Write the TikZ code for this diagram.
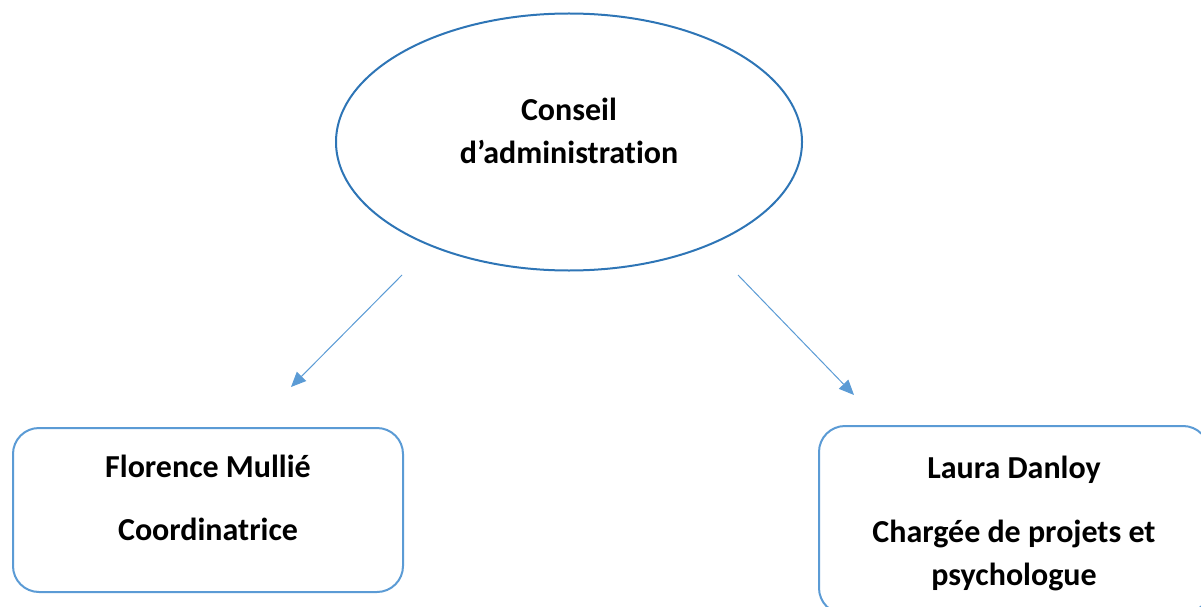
\documentclass[tikz,border=0pt]{standalone}
\usepackage{fontspec}
\setmainfont{Carlito}[Ligatures=NoCommon]
\usetikzlibrary{shapes.geometric,arrows.meta}

\definecolor{councilblue}{HTML}{2E75B6}
\definecolor{staffblue}{HTML}{5B9BD5}

\tikzset{
  council/.style={ellipse, draw=councilblue, line width=2pt, minimum width=466pt, minimum height=257pt, inner sep=0pt},
  staffbox/.style={draw=staffblue, line width=2pt, rounded corners=26pt, minimum width=390pt, inner sep=0pt},
  boldtext/.style={font=\fontsize{32}{42.5}\selectfont\bfseries, align=center, inner sep=0pt},
  link/.style={draw=staffblue, line width=1pt, -{Triangle[length=15pt,width=13pt]}}
}

\begin{document}
\begin{tikzpicture}[x=1pt,y=-1pt]
    \useasboundingbox (0,0) rectangle (1201,607);

    \node [council] (conseil) at (569,142) {};
    \node [boldtext, anchor=base] (conseiltext) at (569,163) {Conseil\\d’administration};

    \node [staffbox, minimum height=164pt] (florence) at (208,510) {};
    \node [boldtext, anchor=base] (florencetext) at (208,540) {Florence Mullié\\[20.5pt]Coordinatrice};

    \node [staffbox, minimum height=188pt] (laura) at (1014,520) {};
    \node [boldtext, anchor=base] (lauratext) at (1014,585) {Laura Danloy\\[21.5pt]Chargée de projets et\\psychologue};

    \coordinate (leftstart) at (402,275);
    \coordinate (leftend) at (291,387);
    \coordinate (rightstart) at (738,275);
    \coordinate (rightend) at (854,395);

    \draw [link] (leftstart) -- (leftend);
    \draw [link] (rightstart) -- (rightend);
  \end{tikzpicture}
\end{document}
